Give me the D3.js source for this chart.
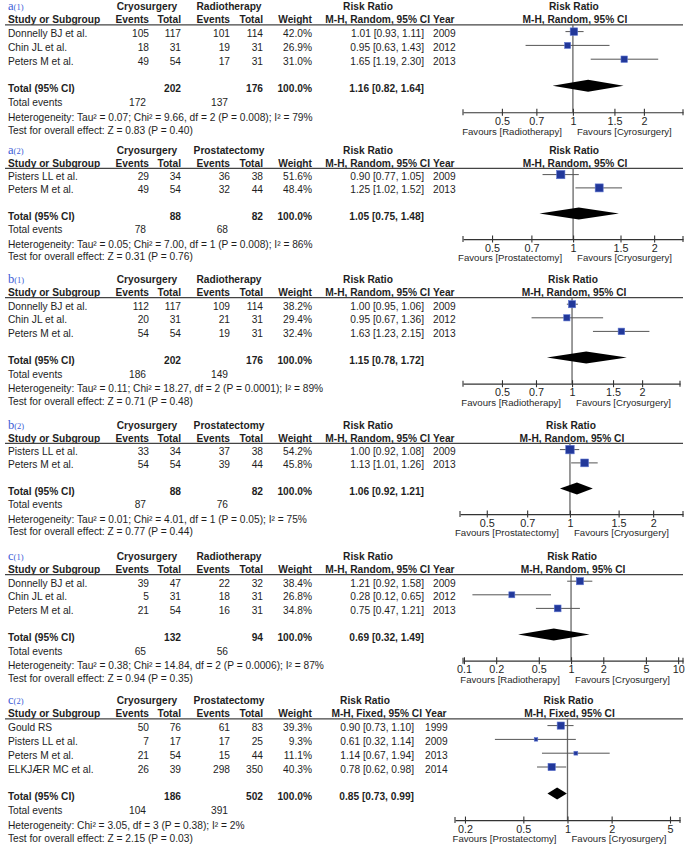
<!DOCTYPE html>
<html>
<head>
<meta charset="utf-8">
<script src="https://cdn.jsdelivr.net/npm/d3@7"></script>
<style>
  body { margin: 0; background: #fff; }
  svg { font-family: "Liberation Sans", Arial, sans-serif; }
</style>
</head>
<body>
<svg id="chart" width="685" height="851"></svg>
<script>
// ---- data, one entry per panel: a(1), a(2), b(1), b(2), c(1), c(2) ----
const panelLetters = ['a', 'a', 'b', 'b', 'c', 'c'];
const panelNumbers = ['(1)', '(2)', '(1)', '(2)', '(1)', '(2)'];
const comparators = ['Radiotherapy', 'Prostatectomy', 'Radiotherapy', 'Prostatectomy', 'Radiotherapy', 'Prostatectomy'];
const methods = ['M-H, Random, 95% CI', 'M-H, Random, 95% CI', 'M-H, Random, 95% CI',
  'M-H, Random, 95% CI', 'M-H, Random, 95% CI', 'M-H, Fixed, 95% CI'];

const studies = [
  ['Donnelly BJ et al.', 'Chin JL et al.', 'Peters M et al.'],
  ['Pisters LL et al.', 'Peters M et al.'],
  ['Donnelly BJ et al.', 'Chin JL et al.', 'Peters M et al.'],
  ['Pisters LL et al.', 'Peters M et al.'],
  ['Donnelly BJ et al.', 'Chin JL et al.', 'Peters M et al.'],
  ['Gould RS', 'Pisters LL et al.', 'Peters M et al.', 'ELKJÆR MC et al.']
];
const years = [
  [2009, 2012, 2013], [2009, 2013], [2009, 2012, 2013],
  [2009, 2013], [2009, 2012, 2013], [1999, 2009, 2013, 2014]
];
const cryoEvents = [[105, 18, 49], [29, 49], [112, 20, 54], [33, 54], [39, 5, 21], [50, 7, 21, 26]];
const cryoTotals = [[117, 31, 54], [34, 54], [117, 31, 54], [34, 54], [47, 31, 54], [76, 17, 54, 39]];
const ctrlEvents = [[101, 19, 17], [36, 32], [109, 21, 19], [37, 39], [22, 18, 16], [61, 17, 15, 298]];
const ctrlTotals = [[114, 31, 31], [38, 44], [114, 31, 31], [38, 44], [32, 31, 31], [83, 25, 44, 350]];
const weights = [[42.0, 26.9, 31.0], [51.6, 48.4], [38.2, 29.4, 32.4], [54.2, 45.8], [38.4, 26.8, 34.8], [39.3, 9.3, 11.1, 40.3]];
const riskRatios = [[1.01, 0.95, 1.65], [0.90, 1.25], [1.00, 0.95, 1.63], [1.00, 1.13], [1.21, 0.28, 0.75], [0.90, 0.61, 1.14, 0.78]];
const ciLows = [[0.93, 0.63, 1.19], [0.77, 1.02], [0.95, 0.67, 1.23], [0.92, 1.01], [0.92, 0.12, 0.47], [0.73, 0.32, 0.67, 0.62]];
const ciHighs = [[1.11, 1.43, 2.30], [1.05, 1.52], [1.06, 1.36, 2.15], [1.08, 1.26], [1.58, 0.65, 1.21], [1.10, 1.14, 1.94, 0.98]];

const totalCryo = [202, 88, 202, 88, 132, 186];
const totalCtrl = [176, 82, 176, 82, 94, 502];
const pooledRR = [1.16, 1.05, 1.15, 1.06, 0.69, 0.85];
const pooledLow = [0.82, 0.75, 0.78, 0.92, 0.32, 0.73];
const pooledHigh = [1.64, 1.48, 1.72, 1.21, 1.49, 0.99];
const eventsCryo = [172, 78, 186, 87, 65, 104];
const eventsCtrl = [137, 68, 149, 76, 56, 391];
const heterogeneity = [
  'Heterogeneity: Tau² = 0.07; Chi² = 9.66, df = 2 (P = 0.008); I² = 79%',
  'Heterogeneity: Tau² = 0.05; Chi² = 7.00, df = 1 (P = 0.008); I² = 86%',
  'Heterogeneity: Tau² = 0.11; Chi² = 18.27, df = 2 (P = 0.0001); I² = 89%',
  'Heterogeneity: Tau² = 0.01; Chi² = 4.01, df = 1 (P = 0.05); I² = 75%',
  'Heterogeneity: Tau² = 0.38; Chi² = 14.84, df = 2 (P = 0.0006); I² = 87%',
  'Heterogeneity: Chi² = 3.05, df = 3 (P = 0.38); I² = 2%'
];
const overallEffect = [
  'Test for overall effect: Z = 0.83 (P = 0.40)',
  'Test for overall effect: Z = 0.31 (P = 0.76)',
  'Test for overall effect: Z = 0.71 (P = 0.48)',
  'Test for overall effect: Z = 0.77 (P = 0.44)',
  'Test for overall effect: Z = 0.94 (P = 0.35)',
  'Test for overall effect: Z = 2.15 (P = 0.03)'
];
const favoursLeft = ['Favours [Radiotherapy]', 'Favours [Prostatectomy]', 'Favours [Radiotherapy]',
  'Favours [Prostatectomy]', 'Favours [Radiotherapy]', 'Favours [Prostatectomy]'];
const favoursRight = ['Favours [Cyrosurgery]', 'Favours [Cryosurgery]', 'Favours [Cryosurgery]',
  'Favours [Cryosurgery]', 'Favours [Cryosurgery]', 'Favours [Cryosurgery]'];
const axisTicks = [
  [0.5, 0.7, 1, 1.5, 2], [0.5, 0.7, 1, 1.5, 2], [0.5, 0.7, 1, 1.5, 2],
  [0.5, 0.7, 1, 1.5, 2], [0.1, 0.2, 0.5, 1, 2, 5, 10], [0.2, 0.5, 1, 2, 5]
];

// ---- layout ----
const panelTops = [6, 150, 279, 425, 556, 700];
const lineSteps = [13.8, 13.3, 13.6, 13.3, 13.6, 13.8];
const xDomains = [[0.342, 2.93], [0.39, 2.56], [0.34, 2.91], [0.40, 2.565], [0.098, 11.1], [0.171, 5.85]];
const xRanges = [[463, 683], [463, 683], [463, 680], [460, 683], [463, 683], [455, 680]];

const col = { study: 8, ev1: 149, tot1: 181, ev2: 230, tot2: 263, weight: 312, ci: 424, year: 433 };
const textColor = '#1e1e1e';
const fs = 10.2;

const svg = d3.select('#chart');
const fmt1 = d3.format('.1f');
const fmt2 = d3.format('.2f');
const ciText = (r, l, h) => `${fmt2(r)} [${fmt2(l)}, ${fmt2(h)}]`;

const addText = (g, x, y, s, anchor = 'start', bold = false) =>
  g.append('text')
    .attr('x', x)
    .attr('y', y)
    .attr('dy', '0.35em')
    .attr('text-anchor', anchor)
    .attr('font-size', fs)
    .attr('font-weight', bold ? 'bold' : null)
    .attr('fill', textColor)
    .text(s);

const boxSize = d3.scaleSqrt().domain([0, 100]).range([0, 11.5]);

panelLetters.forEach((letter, i) => {
  const g = svg.append('g');
  const line = d3.scaleLinear().domain([0, 1]).range([panelTops[i], panelTops[i] + lineSteps[i]]);
  const n = studies[i].length;
  const totalIdx = n + 3;
  const x = d3.scaleLog().domain(xDomains[i]).range(xRanges[i]);
  const one = x(1);
  const ciRight = i === 5 ? 414 : col.ci;
  const yearX = i === 5 ? 425 : col.year;
  const rrCenter = i === 5 ? 365 : 368;

  // panel label
  const lab = g.append('text')
    .attr('x', col.study)
    .attr('y', line(0) - 2)
    .attr('dy', '0.35em')
    .attr('font-family', '"Liberation Serif", "Times New Roman", serif')
    .attr('fill', '#3a5bd6');
  lab.append('tspan').attr('font-size', 12.5).text(letter);
  lab.append('tspan').attr('font-size', 8.5).text(panelNumbers[i]);

  // header row 1
  addText(g, 147, line(0), 'Cryosurgery', 'middle', true);
  addText(g, 229, line(0), comparators[i], 'middle', true);
  addText(g, rrCenter, line(0), 'Risk Ratio', 'middle', true);
  addText(g, one + 1, line(0), 'Risk Ratio', 'middle', true);

  // header row 2
  addText(g, col.study, line(1), 'Study or Subgroup', 'start', true);
  addText(g, col.ev1, line(1), 'Events', 'end', true);
  addText(g, col.tot1, line(1), 'Total', 'end', true);
  addText(g, col.ev2, line(1), 'Events', 'end', true);
  addText(g, col.tot2, line(1), 'Total', 'end', true);
  addText(g, col.weight, line(1), 'Weight', 'end', true);
  addText(g, yearX - 3, line(1), methods[i], 'end', true);
  addText(g, yearX, line(1), 'Year', 'start', true);
  addText(g, one + 2, line(1), methods[i], 'middle', true);

  const underlineY = line(1) + 5;
  g.append('line')
    .attr('x1', 5).attr('x2', 683)
    .attr('y1', underlineY).attr('y2', underlineY)
    .attr('stroke', '#444').attr('stroke-width', 1.3);

  // study rows
  studies[i].forEach((s, j) => {
    const y = line(2 + j);
    addText(g, col.study, y, s);
    addText(g, col.ev1, y, cryoEvents[i][j], 'end');
    addText(g, col.tot1, y, cryoTotals[i][j], 'end');
    addText(g, col.ev2, y, ctrlEvents[i][j], 'end');
    addText(g, col.tot2, y, ctrlTotals[i][j], 'end');
    addText(g, col.weight, y, fmt1(weights[i][j]) + '%', 'end');
    addText(g, ciRight, y, ciText(riskRatios[i][j], ciLows[i][j], ciHighs[i][j]), 'end');
    addText(g, yearX, y, years[i][j]);
  });

  // totals
  const ty = line(totalIdx);
  addText(g, col.study, ty, 'Total (95% CI)', 'start', true);
  addText(g, col.tot1, ty, totalCryo[i], 'end', true);
  addText(g, col.tot2, ty, totalCtrl[i], 'end', true);
  addText(g, col.weight, ty, '100.0%', 'end', true);
  addText(g, ciRight, ty, ciText(pooledRR[i], pooledLow[i], pooledHigh[i]), 'end', true);
  addText(g, col.study, line(totalIdx + 1), 'Total events');
  addText(g, col.ev1 - 3, line(totalIdx + 1), eventsCryo[i], 'end');
  addText(g, col.ev2 - 2, line(totalIdx + 1), eventsCtrl[i], 'end');
  addText(g, col.study, line(totalIdx + 2) + 1, heterogeneity[i]);
  addText(g, col.study, line(totalIdx + 3), overallEffect[i]);

  // forest plot
  const axisY = line(totalIdx + 1.7);
  g.append('line')
    .attr('x1', one).attr('x2', one)
    .attr('y1', underlineY).attr('y2', axisY)
    .attr('stroke', '#666').attr('stroke-width', 1.3);

  studies[i].forEach((s, j) => {
    const y = line(2 + j) - 2;
    const [r0, r1] = x.range();
    g.append('line')
      .attr('x1', Math.max(r0, x(ciLows[i][j])))
      .attr('x2', Math.min(r1, x(ciHighs[i][j])))
      .attr('y1', y).attr('y2', y)
      .attr('stroke', '#555').attr('stroke-width', 1);
    const b = boxSize(weights[i][j]);
    g.append('rect')
      .attr('x', x(riskRatios[i][j]) - b / 2)
      .attr('y', y - b / 2)
      .attr('width', b).attr('height', b)
      .attr('fill', '#22389a')
      .attr('stroke', '#5d74cf').attr('stroke-width', 0.6);
  });

  const dy = ty - 3;
  const diamond = [
    [x(pooledLow[i]), dy], [x(pooledRR[i]), dy - 6],
    [x(pooledHigh[i]), dy], [x(pooledRR[i]), dy + 6]
  ];
  g.append('path')
    .attr('d', d3.line()(diamond) + 'Z')
    .attr('fill', '#000');

  const axis = d3.axisBottom(x)
    .tickValues(axisTicks[i])
    .tickFormat(d3.format('~g'))
    .tickSizeInner(3.5)
    .tickSizeOuter(0)
    .tickPadding(1.5);
  const ag = g.append('g').attr('transform', `translate(0,${axisY})`).call(axis);
  ag.select('.domain').attr('stroke', '#333').attr('stroke-width', 1.2);
  ag.selectAll('.tick line').attr('y1', -3.5).attr('stroke', '#333').attr('stroke-width', 1.1);
  ag.selectAll('.tick text')
    .attr('font-size', 10.8)
    .attr('fill', textColor)
    .attr('font-family', '"Liberation Sans", Arial, sans-serif');
  // end ticks on the axis line
  x.range().forEach((r) => {
    ag.append('line')
      .attr('x1', r).attr('x2', r)
      .attr('y1', -3).attr('y2', 3)
      .attr('stroke', '#333').attr('stroke-width', 1.1);
  });

  const favY = axisY + 19;
  g.append('text')
    .attr('x', one - 11).attr('y', favY).attr('dy', '0.35em')
    .attr('text-anchor', 'end').attr('font-size', 9.6).attr('fill', '#2a2a2a')
    .text(favoursLeft[i]);
  g.append('text')
    .attr('x', one + 4).attr('y', favY).attr('dy', '0.35em')
    .attr('text-anchor', 'start').attr('font-size', 9.6).attr('fill', '#2a2a2a')
    .text(favoursRight[i]);
});
</script>
</body>
</html>
